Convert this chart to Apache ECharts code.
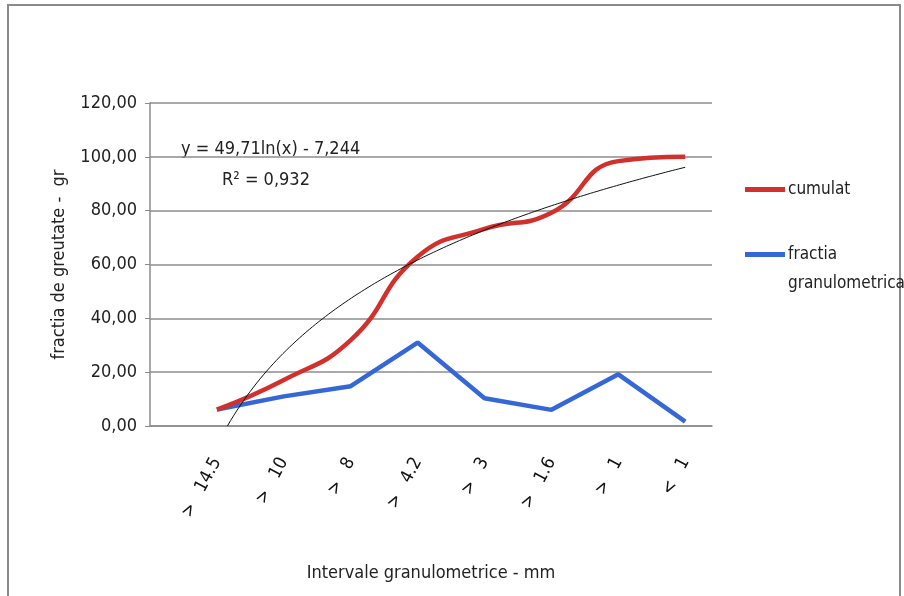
<!DOCTYPE html>
<html>
<head>
<meta charset="utf-8">
<script src="https://cdn.jsdelivr.net/npm/echarts@6/dist/echarts.min.js"></script>
<style>
html,body{margin:0;padding:0;background:#fff;}
#c{width:904px;height:596px;}
</style>
</head>
<body>
<div id="c"></div>
<script>
// ---- data ----
const categories = ['>   14.5', '>   10', '>   8', '>   4.2', '>   3', '>   1.6', '>   1', '<   1'];
const cumulat = [6.1, 17.1, 31.9, 62.9, 73.2, 79.2, 98.4, 100.0];
const fractia = [6.1, 11.0, 14.8, 31.0, 10.3, 6.0, 19.2, 1.6];
const yTicks = [0, 20, 40, 60, 80, 100, 120];
// logarithmic trend line shown in the chart: y = 49,71 ln(x) - 7,244 (x = category number 1..8)
const trendA = 49.71;
const trendB = -7.244;
const trendLabel = 'y = 49,71ln(x) - 7,244';
const r2Label = 'R² = 0,932';

const FONT = '"Liberation Sans Narrow", "DejaVu Sans Condensed", "Noto Sans", sans-serif';

const trendData = [];
const xStart = Math.exp(-trendB / trendA);
for (let k = 0; k <= 140; k++) {
  const xe = xStart + (categories.length - xStart) * k / 140;
  trendData.push([xe - 1, trendA * Math.log(xe) + trendB]);
}

const chart = echarts.init(document.getElementById('c'));
chart.setOption({
  animation: false,
  backgroundColor: '#fff',
  textStyle: { fontFamily: FONT },
  grid: { left: 150, top: 103, width: 562, height: 323, containLabel: false },
  xAxis: {
    type: 'value', min: -1, max: 7.4, interval: 1,
    axisLine: { show: true, onZero: false, lineStyle: { color: '#8c8c8c', width: 1.5 } },
    axisTick: { show: false },
    splitLine: { show: false },
    axisLabel: {
      rotate: 62, margin: 33, fontSize: 18, color: '#111', fontFamily: FONT,
      formatter: function (v) {
        const i = Math.round(v);
        return (Math.abs(v - i) < 1e-6 && i >= 0 && i < categories.length) ? categories[i] : '';
      }
    },
    name: 'Intervale granulometrice - mm', nameLocation: 'middle', nameGap: 138,
    nameTextStyle: { fontSize: 18, color: '#222', fontFamily: FONT }
  },
  yAxis: {
    type: 'value', min: yTicks[0], max: yTicks[yTicks.length - 1], interval: 20,
    axisLine: { show: true, onZero: false, lineStyle: { color: '#8c8c8c', width: 1.5 } },
    axisTick: { show: true, inside: false, length: 5, lineStyle: { color: '#8c8c8c' } },
    splitLine: { show: true, lineStyle: { color: '#8c8c8c', width: 1.5 } },
    axisLabel: {
      margin: 13, fontSize: 18, color: '#222', fontFamily: FONT,
      formatter: function (v) { return v.toFixed(2).replace('.', ','); }
    },
    name: 'fractia de greutate -  gr', nameLocation: 'middle', nameGap: 82,
    nameTextStyle: { fontSize: 18, color: '#222', fontFamily: FONT }
  },
  legend: {
    orient: 'vertical', left: 740, top: 170,
    icon: 'rect', itemWidth: 40, itemHeight: 5, itemGap: 7,
    data: ['cumulat', 'fractia granulometrica'],
    formatter: function (n) { return n === 'cumulat' ? n : '\nfractia\ngranulometrica'; },
    textStyle: { fontSize: 17, color: '#222', fontFamily: FONT, lineHeight: 29, padding: [0, 0, 0, -2] }
  },
  graphic: [
    { type: 'rect', shape: { x: 8, y: 5, width: 892, height: 620 }, style: { fill: 'none', stroke: '#8a8a8a', lineWidth: 2 }, silent: true },
    { type: 'text', left: 181, top: 140, style: { text: trendLabel, fontSize: 18, fontFamily: FONT, fill: '#222' } },
    { type: 'text', left: 222, top: 171, style: { text: r2Label, fontSize: 18, fontFamily: FONT, fill: '#222' } }
  ],
  series: [
    {
      name: 'trend', type: 'line', data: trendData, showSymbol: false, z: 3,
      lineStyle: { color: '#111', width: 1 }, smooth: false
    },
    {
      name: 'fractia granulometrica', type: 'line', z: 2,
      data: fractia.map((v, i) => [i, v]), showSymbol: false,
      itemStyle: { color: '#3567d6' }, lineStyle: { color: '#3567d6', width: 4.5 }
    },
    {
      name: 'cumulat', type: 'line', z: 2,
      data: cumulat.map((v, i) => [i, v]), showSymbol: false, smooth: 0.5,
      itemStyle: { color: '#d2302c' }, lineStyle: { color: '#d2302c', width: 4.5 }
    }
  ]
});
</script>
</body>
</html>
